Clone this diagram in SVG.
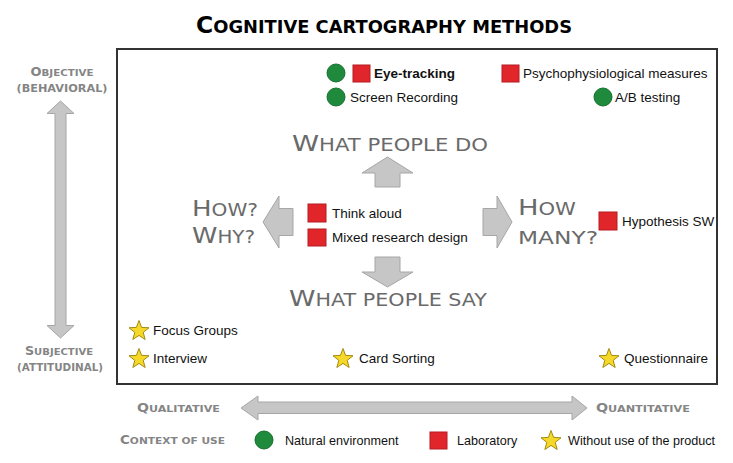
<svg xmlns="http://www.w3.org/2000/svg" width="733" height="463" viewBox="0 0 733 463">
<style>
.title{font-family:"DejaVu Sans",sans-serif;font-weight:bold;fill:#000;}
.head{font-family:"DejaVu Sans",sans-serif;fill:#6a6a6a;}
.side{font-family:"DejaVu Sans",sans-serif;fill:#858585;font-weight:bold;}
.lbl{font-family:"Liberation Sans",Arial,sans-serif;font-size:13.5px;fill:#111;}
.leg{font-family:"Liberation Sans",Arial,sans-serif;font-size:12.6px;fill:#111;}
.arrow{fill:#c6c6c6;stroke:#a6a6a6;stroke-width:1;stroke-linejoin:round;}
.g{fill:#1f8a3c;stroke:#167030;stroke-width:1;}
.r{fill:#e1262b;stroke:#b51d22;stroke-width:1;}
.s{fill:#f6d928;stroke:#a48a10;stroke-width:1;stroke-linejoin:round;}
</style>
<defs>
<path id="star" d="M0,-10.5 L2.6,-3.6 L10,-3.25 L4.2,1.37 L6.17,8.5 L0,4.4 L-6.17,8.5 L-4.2,1.37 L-10,-3.25 L-2.6,-3.6 Z"/>
</defs>
<rect width="733" height="463" fill="#fff"/>

<g id="title">
<text class="title" x="196" y="33" textLength="376" lengthAdjust="spacingAndGlyphs"><tspan font-size="23">C</tspan><tspan font-size="17.5">OGNITIVE CARTOGRAPHY METHODS</tspan></text>
</g>

<g id="frame">
<rect x="117" y="49" width="600" height="335" fill="none" stroke="#333" stroke-width="2"/>
</g>

<g id="axis-labels">
<text class="side" x="62" y="76" text-anchor="middle" textLength="63" lengthAdjust="spacingAndGlyphs"><tspan font-size="12">O</tspan><tspan font-size="9.5">BJECTIVE</tspan></text>
<text class="side" x="62" y="92" text-anchor="middle" textLength="91" lengthAdjust="spacingAndGlyphs" font-size="11">(BEHAVIORAL)</text>
<text class="side" x="59" y="355" text-anchor="middle" textLength="68" lengthAdjust="spacingAndGlyphs"><tspan font-size="12">S</tspan><tspan font-size="9.5">UBJECTIVE</tspan></text>
<text class="side" x="60" y="371" text-anchor="middle" textLength="86" lengthAdjust="spacingAndGlyphs" font-size="11">(ATTITUDINAL)</text>
<text class="side" x="137" y="412" textLength="83" lengthAdjust="spacingAndGlyphs"><tspan font-size="12">Q</tspan><tspan font-size="9.5">UALITATIVE</tspan></text>
<text class="side" x="596" y="412" textLength="94" lengthAdjust="spacingAndGlyphs"><tspan font-size="12">Q</tspan><tspan font-size="9.5">UANTITATIVE</tspan></text>
<text class="side" x="120" y="444" textLength="105" lengthAdjust="spacingAndGlyphs"><tspan font-size="12">C</tspan><tspan font-size="9.5">ONTEXT OF USE</tspan></text>
</g>

<g id="connectors">
<path class="arrow" d="M60.5,101 L74,113.5 L66,113.5 L66,325.5 L74,325.5 L60.5,338 L47,325.5 L55,325.5 L55,113.5 L47,113.5 Z"/>
<path class="arrow" d="M241,408 L258,396 L258,402 L572,402 L572,396 L587,408 L572,420 L572,413.5 L258,413.5 L258,420 Z"/>
<path class="arrow" d="M387.5,157 L413,173 L400,173 L400,187 L375,187 L375,173 L362,173 Z"/>
<path class="arrow" d="M375,257 L400,257 L400,272 L413,272 L387.5,287 L362,272 L375,272 Z"/>
<path class="arrow" d="M263,222 L279,196 L279,208.5 L293,208.5 L293,235.5 L279,235.5 L279,248 Z"/>
<path class="arrow" d="M512,222 L497,196 L497,208.5 L483,208.5 L483,235.5 L497,235.5 L497,248 Z"/>
</g>

<g id="headings">
<text class="head" x="292" y="151" textLength="196" lengthAdjust="spacingAndGlyphs"><tspan font-size="22">W</tspan><tspan font-size="17">HAT PEOPLE DO</tspan></text>
<text class="head" x="289" y="306" textLength="198" lengthAdjust="spacingAndGlyphs"><tspan font-size="22">W</tspan><tspan font-size="17">HAT PEOPLE SAY</tspan></text>
<text class="head" x="192" y="216" textLength="66" lengthAdjust="spacingAndGlyphs"><tspan font-size="22">H</tspan><tspan font-size="17">OW?</tspan></text>
<text class="head" x="192" y="243" textLength="63" lengthAdjust="spacingAndGlyphs"><tspan font-size="22">W</tspan><tspan font-size="17">HY?</tspan></text>
<text class="head" x="518" y="215" textLength="58" lengthAdjust="spacingAndGlyphs"><tspan font-size="22">H</tspan><tspan font-size="17">OW</tspan></text>
<text class="head" x="518" y="244" textLength="80" lengthAdjust="spacingAndGlyphs" font-size="17">MANY?</text>
</g>

<g id="eye-tracking">
<circle class="g" cx="336" cy="73" r="9"/>
<rect class="r" x="353" y="65" width="17" height="17"/>
<text class="lbl" x="374" y="78" font-weight="bold">Eye-tracking</text>
</g>
<g id="psychophysiological">
<rect class="r" x="502" y="65" width="17" height="17"/>
<text class="lbl" x="523" y="78">Psychophysiological measures</text>
</g>
<g id="screen-recording">
<circle class="g" cx="336" cy="97" r="9"/>
<text class="lbl" x="350" y="102">Screen Recording</text>
</g>
<g id="ab-testing">
<circle class="g" cx="603" cy="97" r="9"/>
<text class="lbl" x="615" y="102">A/B testing</text>
</g>
<g id="think-aloud">
<rect class="r" x="308" y="204" width="18" height="18"/>
<text class="lbl" x="332" y="218">Think aloud</text>
</g>
<g id="mixed-research">
<rect class="r" x="308" y="229" width="18" height="17"/>
<text class="lbl" x="332" y="242">Mixed research design</text>
</g>
<g id="hypothesis-sw">
<rect class="r" x="599" y="212" width="18" height="18"/>
<text class="lbl" x="622" y="226">Hypothesis SW</text>
</g>
<g id="focus-groups">
<use href="#star" class="s" x="139" y="331"/>
<text class="lbl" x="153" y="335">Focus Groups</text>
</g>
<g id="interview">
<use href="#star" class="s" x="139" y="359"/>
<text class="lbl" x="153" y="363">Interview</text>
</g>
<g id="card-sorting">
<use href="#star" class="s" x="343" y="359"/>
<text class="lbl" x="359" y="363">Card Sorting</text>
</g>
<g id="questionnaire">
<use href="#star" class="s" x="609" y="359"/>
<text class="lbl" x="624" y="363">Questionnaire</text>
</g>

<g id="legend">
<circle class="g" cx="264" cy="440" r="9"/>
<text class="leg" x="285" y="445">Natural environment</text>
<rect class="r" x="430" y="432" width="17" height="17"/>
<text class="leg" x="457" y="445">Laboratory</text>
<use href="#star" class="s" x="551" y="441"/>
<text class="leg" x="568" y="445">Without use of the product</text>
</g>
</svg>
